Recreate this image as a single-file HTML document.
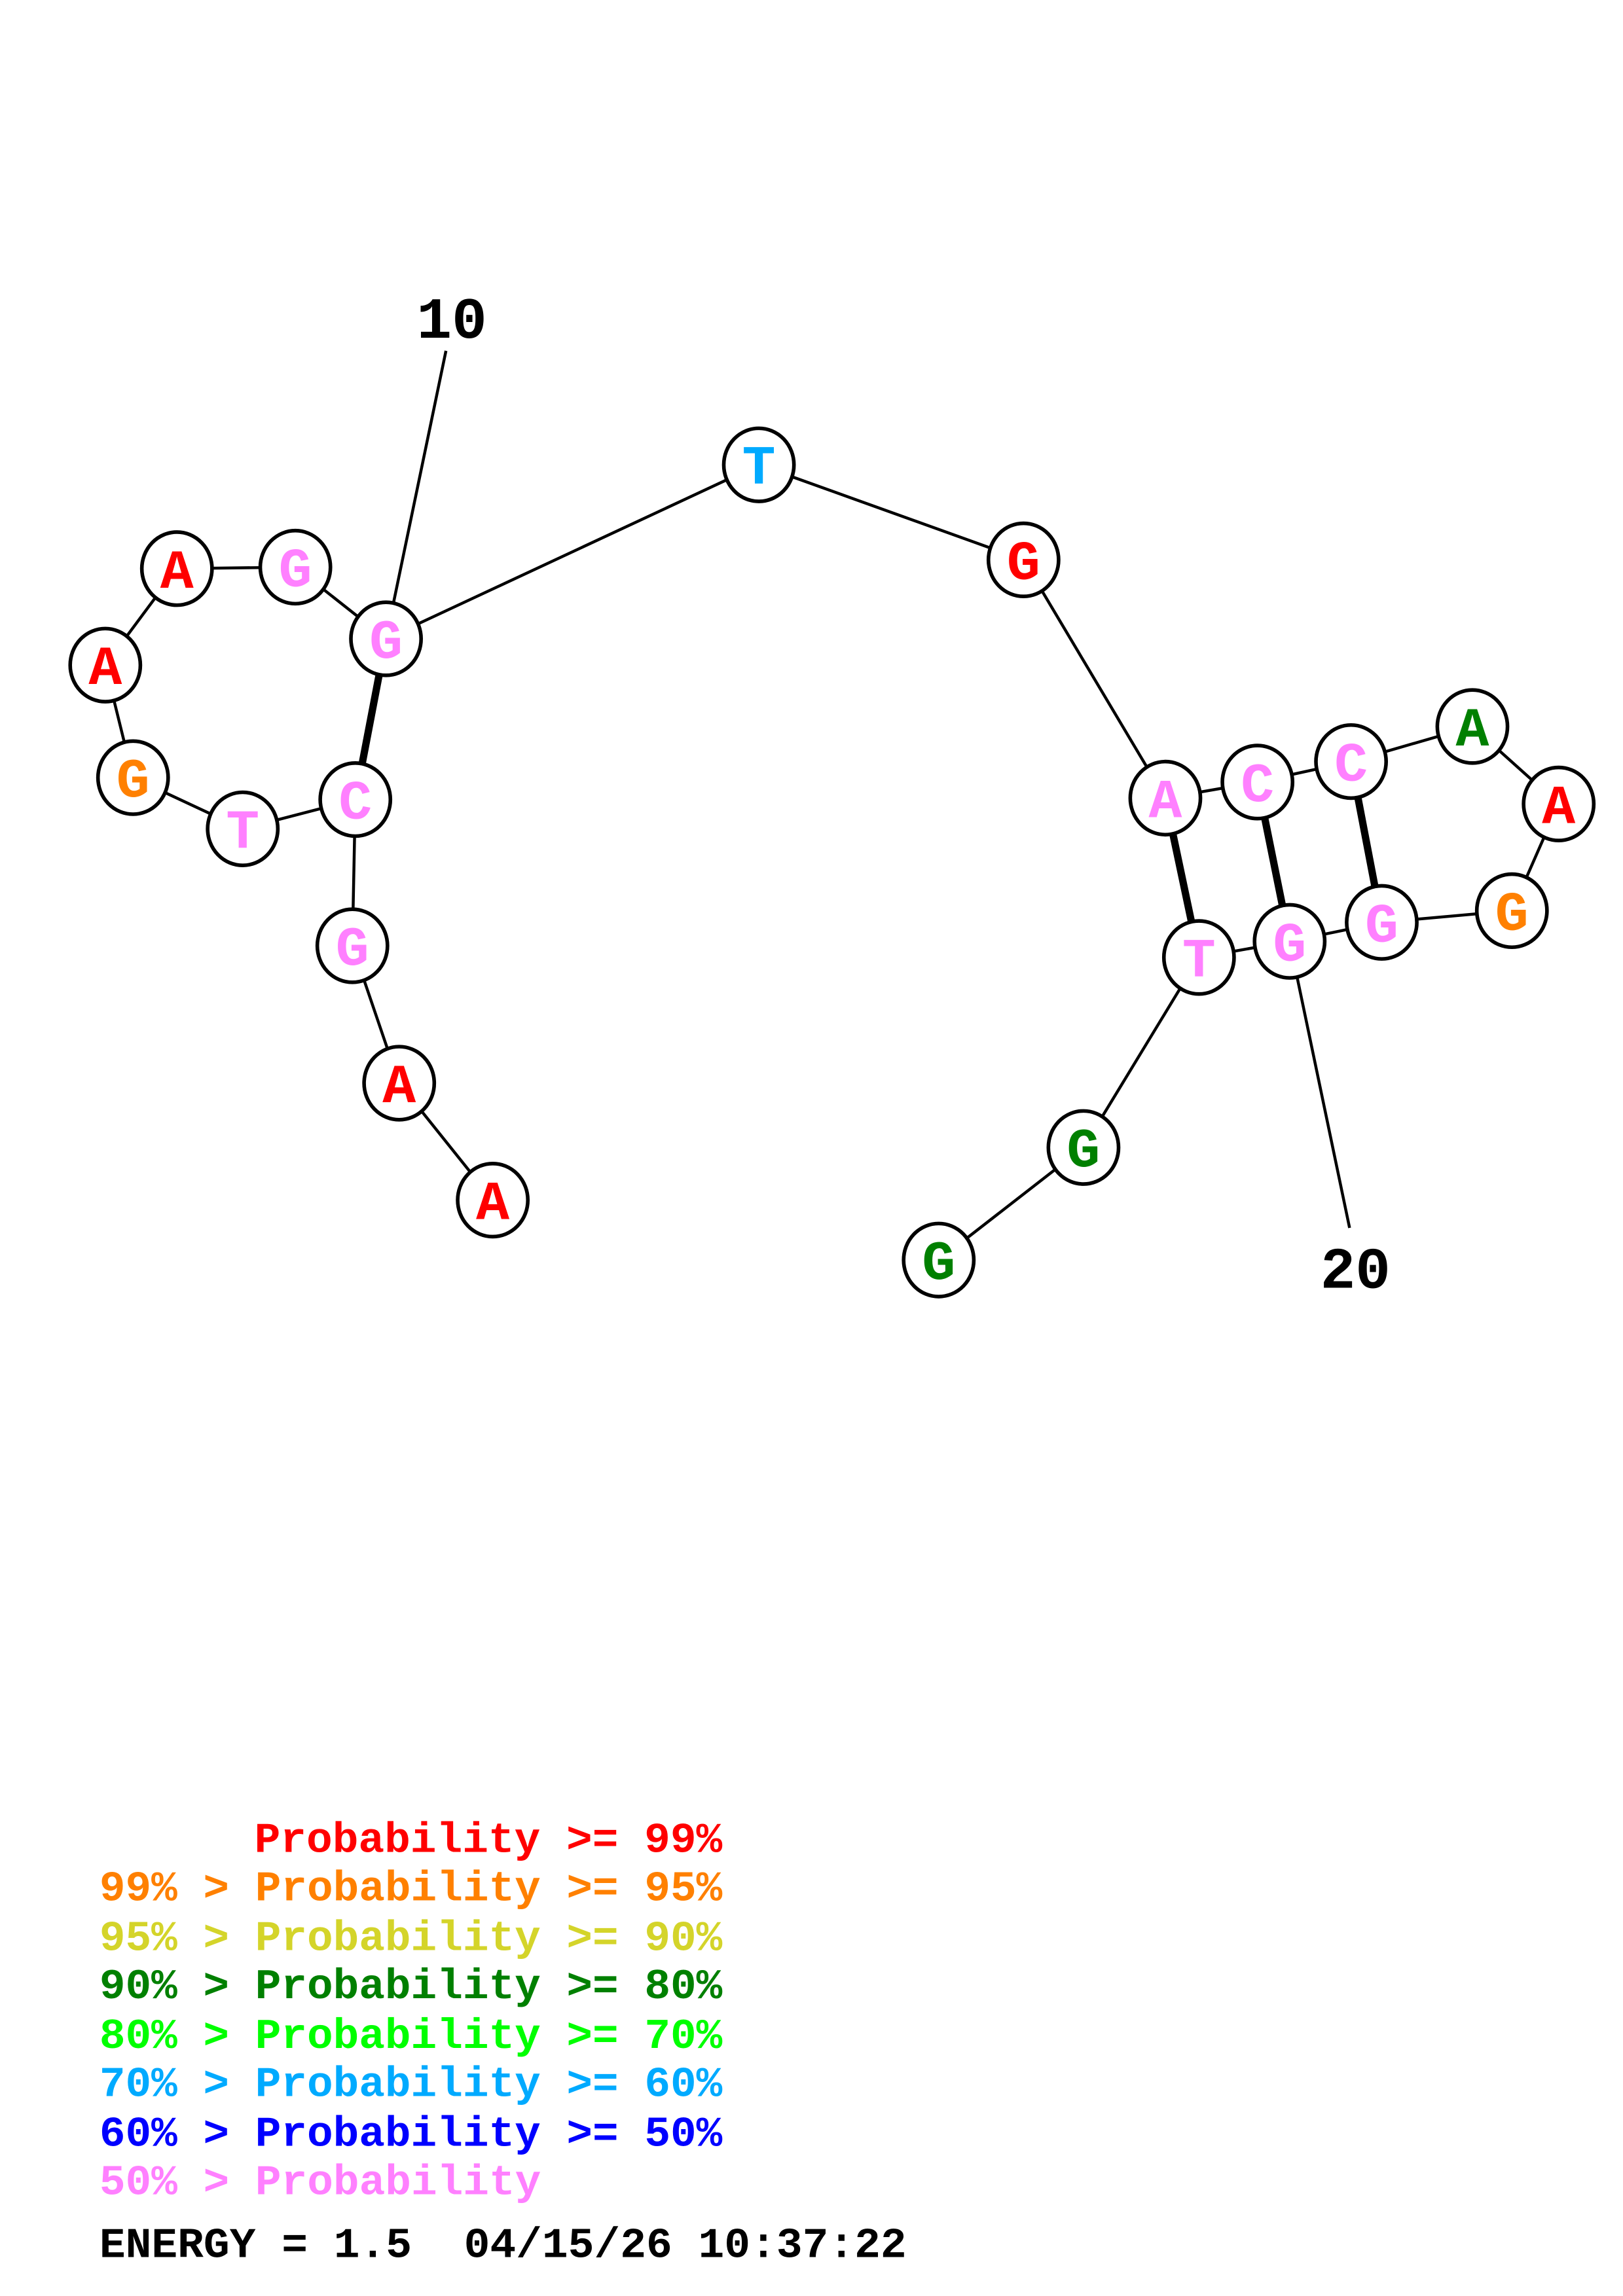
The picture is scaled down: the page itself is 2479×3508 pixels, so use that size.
<!DOCTYPE html>
<html><head><meta charset="utf-8"><style>html,body{margin:0;padding:0;background:#fff}svg{display:block}</style></head>
<body>
<svg width="2479" height="3508" viewBox="0 0 1110 1570.7" preserveAspectRatio="none" xmlns="http://www.w3.org/2000/svg">
<rect width="1110" height="1571" fill="#fff"/>
<g stroke="#000" stroke-width="2" fill="none">
<polyline points="337,821 273,741 241,647 243,547 166,567 91,532 72,455 121,389 202,388 264,437 519,318 700,383 797,546 860,535 924,521 1007,497 1066,550 1034,623 945,631 882,644 820,655 741,785 642,862"/>
<line x1="305" y1="240" x2="264" y2="437"/>
<line x1="923" y1="840" x2="882" y2="644"/>
<g stroke-width="5">
<line x1="264" y1="437" x2="243" y2="547"/>
<line x1="797" y1="546" x2="820" y2="655"/>
<line x1="860" y1="535" x2="882" y2="644"/>
<line x1="924" y1="521" x2="945" y2="631"/>
</g>
</g>
<g stroke="#000" stroke-width="2.5" fill="#fff">
<ellipse cx="337" cy="821" rx="24" ry="25"/><ellipse cx="273" cy="741" rx="24" ry="25"/><ellipse cx="241" cy="647" rx="24" ry="25"/><ellipse cx="243" cy="547" rx="24" ry="25"/><ellipse cx="166" cy="567" rx="24" ry="25"/><ellipse cx="91" cy="532" rx="24" ry="25"/><ellipse cx="72" cy="455" rx="24" ry="25"/><ellipse cx="121" cy="389" rx="24" ry="25"/><ellipse cx="202" cy="388" rx="24" ry="25"/><ellipse cx="264" cy="437" rx="24" ry="25"/><ellipse cx="519" cy="318" rx="24" ry="25"/><ellipse cx="700" cy="383" rx="24" ry="25"/><ellipse cx="797" cy="546" rx="24" ry="25"/><ellipse cx="860" cy="535" rx="24" ry="25"/><ellipse cx="924" cy="521" rx="24" ry="25"/><ellipse cx="1007" cy="497" rx="24" ry="25"/><ellipse cx="1066" cy="550" rx="24" ry="25"/><ellipse cx="1034" cy="623" rx="24" ry="25"/><ellipse cx="945" cy="631" rx="24" ry="25"/><ellipse cx="882" cy="644" rx="24" ry="25"/><ellipse cx="820" cy="655" rx="24" ry="25"/><ellipse cx="741" cy="785" rx="24" ry="25"/><ellipse cx="642" cy="862" rx="24" ry="25"/>
</g>
<g font-family="Liberation Mono, monospace" font-weight="bold" font-size="38" text-anchor="middle">
<text x="337" y="834" fill="#ff0000">A</text><text x="273" y="754" fill="#ff0000">A</text><text x="241" y="660" fill="#ff80ff">G</text><text x="243" y="560" fill="#ff80ff">C</text><text x="166" y="580" fill="#ff80ff">T</text><text x="91" y="545" fill="#ff8000">G</text><text x="72" y="468" fill="#ff0000">A</text><text x="121" y="402" fill="#ff0000">A</text><text x="202" y="401" fill="#ff80ff">G</text><text x="264" y="450" fill="#ff80ff">G</text><text x="519" y="331" fill="#00aaff">T</text><text x="700" y="396" fill="#ff0000">G</text><text x="797" y="559" fill="#ff80ff">A</text><text x="860" y="548" fill="#ff80ff">C</text><text x="924" y="534" fill="#ff80ff">C</text><text x="1007" y="510" fill="#008000">A</text><text x="1066" y="563" fill="#ff0000">A</text><text x="1034" y="636" fill="#ff8000">G</text><text x="945" y="644" fill="#ff80ff">G</text><text x="882" y="657" fill="#ff80ff">G</text><text x="820" y="668" fill="#ff80ff">T</text><text x="741" y="798" fill="#008000">G</text><text x="642" y="875" fill="#008000">G</text>
<text x="309" y="231" fill="#000" font-size="40">10</text>
<text x="927" y="881" fill="#000" font-size="40">20</text>
</g>
<g font-family="Liberation Mono, monospace" font-weight="bold" font-size="29">
<text x="174" y="1267" fill="#ff0000" textLength="320" lengthAdjust="spacingAndGlyphs">Probability &gt;= 99%</text>
<text x="68" y="1300" fill="#ff8000" textLength="426" lengthAdjust="spacingAndGlyphs">99% &gt; Probability &gt;= 95%</text>
<text x="68" y="1334" fill="#d4d42a" textLength="426" lengthAdjust="spacingAndGlyphs">95% &gt; Probability &gt;= 90%</text>
<text x="68" y="1367" fill="#008000" textLength="426" lengthAdjust="spacingAndGlyphs">90% &gt; Probability &gt;= 80%</text>
<text x="68" y="1401" fill="#00ff00" textLength="426" lengthAdjust="spacingAndGlyphs">80% &gt; Probability &gt;= 70%</text>
<text x="68" y="1434" fill="#00aaff" textLength="426" lengthAdjust="spacingAndGlyphs">70% &gt; Probability &gt;= 60%</text>
<text x="68" y="1468" fill="#0000ff" textLength="426" lengthAdjust="spacingAndGlyphs">60% &gt; Probability &gt;= 50%</text>
<text x="68" y="1501" fill="#ff80ff" textLength="302" lengthAdjust="spacingAndGlyphs">50% &gt; Probability</text>
<text x="68" y="1544" fill="#000" textLength="552" lengthAdjust="spacingAndGlyphs">ENERGY = 1.5&#160; 04/15/26 10:37:22</text>
</g>
</svg>
</body></html>
